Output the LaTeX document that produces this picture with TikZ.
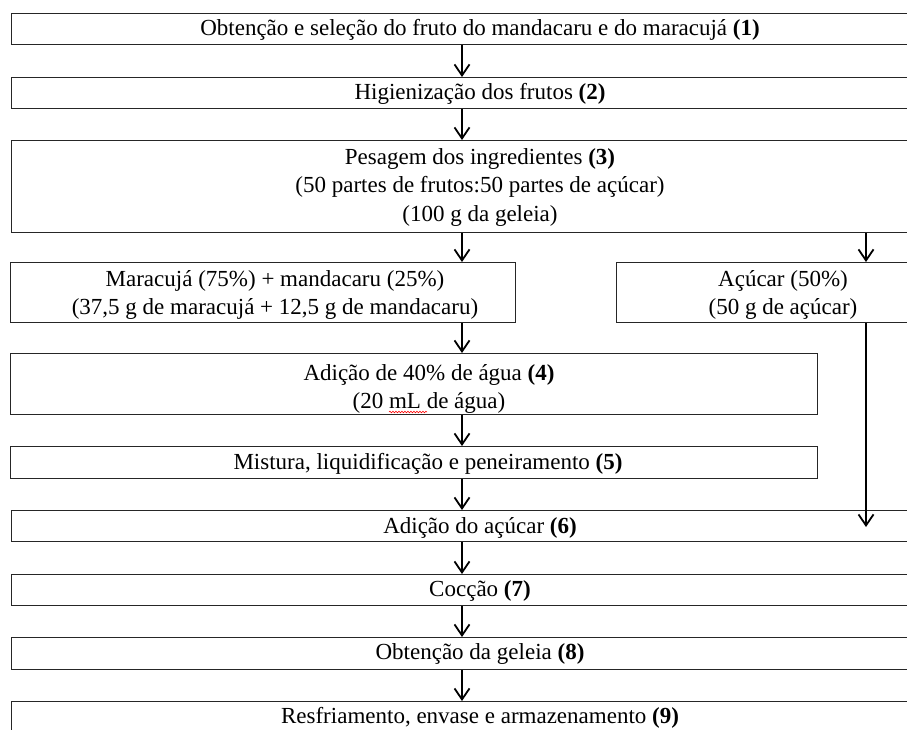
\documentclass[tikz,border=0pt]{standalone}
\usepackage{fontspec}
\setmainfont{Liberation Serif}
\usetikzlibrary{arrows.meta,decorations.pathmorphing}
\begin{document}
\begin{tikzpicture}[x=1pt,y=-1pt,
  box/.style={draw=black!85,line width=1.3pt,rectangle,anchor=north west,inner sep=0pt},
  lbl/.style={font=\fontsize{23}{28.5}\selectfont,align=center,inner sep=0pt},
  arr/.style={line width=1.8pt,-{Straight Barb[length=11pt,width=15pt,line width=1.8pt]}},
  spell/.style={red,line width=0.6pt,decorate,decoration={snake,amplitude=0.8pt,segment length=3pt}}]
\useasboundingbox (0,0) rectangle (907,729);
\clip (0,0) rectangle (907,729);
\fill[white] (0,0) rectangle (907,729);
% boxes
\node[box,minimum width=939pt,minimum height=31pt] (b1) at (11,13) {};
\node[box,minimum width=939pt,minimum height=31pt] (b2) at (11,77) {};
\node[box,minimum width=939pt,minimum height=92pt] (b3) at (11,140) {};
\node[box,minimum width=505pt,minimum height=60pt] (bm) at (10,262) {};
\node[box,minimum width=334pt,minimum height=60pt] (ba) at (616,262) {};
\node[box,minimum width=807pt,minimum height=61pt] (b4) at (10,353) {};
\node[box,minimum width=807pt,minimum height=32pt] (b5) at (10,446) {};
\node[box,minimum width=939pt,minimum height=31pt] (b6) at (11,510) {};
\node[box,minimum width=939pt,minimum height=31pt] (b7) at (11,574) {};
\node[box,minimum width=939pt,minimum height=32pt] (b8) at (11,637) {};
\node[box,minimum width=939pt,minimum height=60pt] (b9) at (11,701) {};
% texts
\node[lbl] (t1) at (480,30) {Obtenção e seleção do fruto do mandacaru e do maracujá \textbf{(1)}};
\node[lbl] (t2) at (480,94) {Higienização dos frutos \textbf{(2)}};
\node[lbl] (t3) at (480,187) {Pesagem dos ingredientes \textbf{(3)}\\(50 partes de frutos:50 partes de açúcar)\\(100 g da geleia)};
\node[lbl] (tm) at (275,295) {Maracujá (75\%) + mandacaru (25\%)\\(37,5 g de maracujá + 12,5 g de mandacaru)};
\node[lbl] (ta) at (783,295) {Açúcar (50\%)\\(50 g de açúcar)};
\node[lbl] (t4) at (429,389) {Adição de 40\% de água \textbf{(4)}\\(20 mL de água)};
\node[lbl] (t5) at (428,464) {Mistura, liquidificação e peneiramento \textbf{(5)}};
\node[lbl] (t6) at (480,528) {Adição do açúcar \textbf{(6)}};
\node[lbl] (t7) at (480,591) {Cocção \textbf{(7)}};
\node[lbl] (t8) at (480,654) {Obtenção da geleia \textbf{(8)}};
\node[lbl] (t9) at (480,718) {Resfriamento, envase e armazenamento \textbf{(9)}};
\draw[spell] (389,412) -- (427,412);
% connectors
\coordinate (ax) at (462,0);
\coordinate (rx) at (866,0);
\coordinate (rend) at (866,527);
\draw[arr] (b1.south -| ax) -- (b2.north -| ax);
\draw[arr] (b2.south -| ax) -- (b3.north -| ax);
\draw[arr] (b3.south -| ax) -- (bm.north -| ax);
\draw[arr] (b3.south -| rx) -- (ba.north -| rx);
\draw[arr] (bm.south -| ax) -- (b4.north -| ax);
\draw[arr] (b4.south -| ax) -- (b5.north -| ax);
\draw[arr] (b5.south -| ax) -- (b6.north -| ax);
\draw[arr] (ba.south -| rx) -- (rend);
\draw[arr] (b6.south -| ax) -- (b7.north -| ax);
\draw[arr] (b7.south -| ax) -- (b8.north -| ax);
\draw[arr] (b8.south -| ax) -- (b9.north -| ax);
\end{tikzpicture}
\end{document}
